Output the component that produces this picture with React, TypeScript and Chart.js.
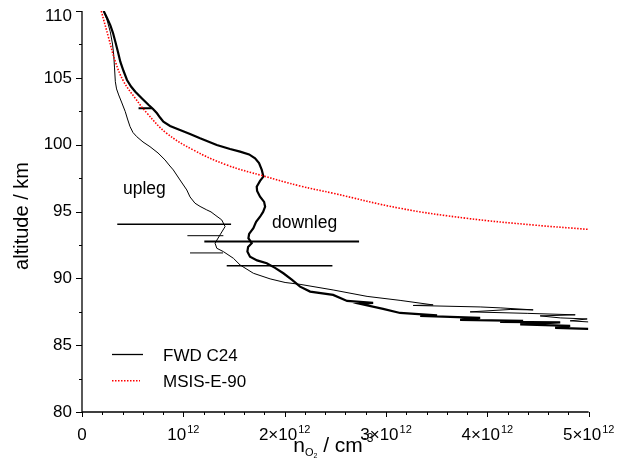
import { useEffect, useRef } from "react";
import Chart from "chart.js/auto";

// ---------- data (density in units of 1e12 cm^-3, altitude in km) ----------
const X_UNIT = 1e12;
const xMin = 0;
const xMax = 5;
const yMin = 80;
const yMax = 110;

const xMajorTicks = [0, 1, 2, 3, 4, 5];
const xMinorTicks = [0.2, 0.4, 0.6, 0.8, 1.2, 1.4, 1.6, 1.8, 2.2, 2.4, 2.6, 2.8, 3.2, 3.4, 3.6, 3.8, 4.2, 4.4, 4.6, 4.8];
const xTickBase = ["0", "10", "2×10", "3×10", "4×10", "5×10"];
const xTickExp = ["", "12", "12", "12", "12", "12"];
const yMajorTicks = [80, 85, 90, 95, 100, 105, 110];
const yMinorTicks = [82.5, 87.5, 92.5, 97.5, 102.5, 107.5];
const yTickLabels = ["80", "85", "90", "95", "100", "105", "110"];

const uplegN = [
  0.214, 0.247, 0.279, 0.301, 0.313, 0.321, 0.329, 0.341, 0.362, 0.390, 0.427, 0.449,
  0.474, 0.503, 0.540, 0.602, 0.671, 0.750, 0.819, 0.859, 0.901, 0.967, 1.034, 1.066,
  1.115, 1.165, 1.231, 1.273, 1.313, 1.379, 1.412, 1.362, 1.313, 1.330, 1.395, 1.494,
  1.560, 1.691, 1.856, 2.004, 2.152, 2.478, 2.813, 3.139, 3.465, 3.268, 3.929, 4.126,
  4.452, 4.225, 3.830, 4.393, 4.867, 4.521, 4.719, 4.985, 4.817, 4.995,
];
const uplegAlt = [
  110.0, 109.33, 108.45, 107.53, 106.71, 105.74, 104.71, 104.17, 103.72, 103.19, 102.47, 101.92,
  101.35, 100.91, 100.60, 100.20, 99.85, 99.38, 98.86, 98.48, 98.11, 97.36, 96.61, 96.09,
  95.62, 95.38, 95.12, 94.97, 94.74, 94.37, 93.87, 93.25, 92.63, 92.25, 92.00, 91.50,
  91.00, 90.38, 89.96, 89.69, 89.55, 89.13, 88.65, 88.35, 88.01, 87.97, 87.86, 87.79,
  87.64, 87.67, 87.49, 87.38, 87.27, 87.19, 87.04, 86.96, 86.82, 86.74,
];

const downlegN = [
  0.214, 0.247, 0.279, 0.306, 0.329, 0.355, 0.378, 0.410, 0.444, 0.484, 0.526, 0.592,
  0.658, 0.701, 0.740, 0.770, 0.803, 0.869, 0.967, 1.066, 1.165, 1.330, 1.461, 1.560,
  1.649, 1.708, 1.747, 1.774, 1.790, 1.757, 1.724, 1.728, 1.757, 1.797, 1.807, 1.787,
  1.757, 1.718, 1.691, 1.649, 1.642, 1.675, 1.639, 1.632, 1.658, 1.728, 1.823, 1.905,
  1.987, 2.073, 2.152, 2.251, 2.478, 2.616, 2.873, 2.744, 2.971, 3.139, 3.504, 3.337,
  3.929, 3.731, 4.353, 4.126, 4.719, 4.324, 4.817, 4.669, 4.995,
];
const downlegAlt = [
  110.0, 109.48, 108.95, 108.35, 107.70, 106.93, 106.21, 105.51, 104.84, 104.35, 103.96, 103.46,
  102.97, 102.67, 102.35, 102.03, 101.72, 101.40, 101.10, 100.80, 100.48, 99.98, 99.68, 99.48,
  99.27, 98.98, 98.63, 98.11, 97.61, 97.29, 96.86, 96.54, 96.11, 95.72, 95.36, 94.97,
  94.61, 94.22, 93.75, 93.32, 93.00, 92.63, 92.35, 92.00, 91.62, 91.34, 91.13, 90.78,
  90.38, 89.88, 89.38, 89.01, 88.76, 88.31, 88.16, 88.09, 87.71, 87.41, 87.23, 87.19,
  87.04, 86.89, 86.82, 86.74, 86.70, 86.55, 86.44, 86.29, 86.22,
];

const msisN = [0.19, 0.264, 0.329, 0.412, 0.526, 0.642, 0.836, 1.099, 1.428, 1.790, 2.152, 2.481, 3.139, 3.798, 4.455, 5.0];
const msisAlt = [110.0, 107.96, 106.21, 104.71, 103.47, 102.35, 100.85, 99.60, 98.48, 97.66, 96.91, 96.36, 95.24, 94.49, 93.99, 93.66];

// horizontal bars (altitude, low and high density)
const barAlt = [102.72, 94.05, 93.19, 92.75, 91.9, 90.95];
const barLo = [0.558, 0.348, 1.040, 1.207, 1.066, 1.428];
const barHi = [0.691, 1.471, 1.395, 2.734, 1.392, 2.471];

const legendLabels = ["FWD C24", "MSIS-E-90"];
const yTitle = "altitude / km";
const annotUp = "upleg";
const annotDown = "downleg";

// ---------- styles ----------
const barWidths = [2, 1.6, 1, 2, 1, 1.5];
const FONT = "'Liberation Sans', Arial, Helvetica, sans-serif";

const toPts = (xs: number[], ys: number[]) => xs.map((v, i) => ({ x: v * X_UNIT, y: ys[i] }));

export default function App() {
  const ref = useRef<HTMLCanvasElement | null>(null);

  useEffect(() => {
    if (!ref.current) return;

    const decor = {
      id: "decor",
      afterDraw(chart: any) {
        const ctx = chart.ctx as CanvasRenderingContext2D;
        const xs = chart.scales.x;
        const ys = chart.scales.y;
        const a = chart.chartArea;
        ctx.save();
        ctx.strokeStyle = "#000";
        ctx.fillStyle = "#000";
        // axes
        ctx.lineWidth = 1.3;
        ctx.beginPath();
        ctx.moveTo(a.left, a.top);
        ctx.lineTo(a.left, a.bottom);
        ctx.lineTo(a.right, a.bottom);
        ctx.stroke();
        // ticks
        ctx.lineWidth = 1;
        ctx.beginPath();
        xMajorTicks.forEach((t) => {
          const px = Math.round(xs.getPixelForValue(t * X_UNIT)) + 0.5;
          ctx.moveTo(px, a.bottom);
          ctx.lineTo(px, a.bottom + 5);
        });
        xMinorTicks.forEach((t) => {
          const px = Math.round(xs.getPixelForValue(t * X_UNIT)) + 0.5;
          ctx.moveTo(px, a.bottom);
          ctx.lineTo(px, a.bottom + 3);
        });
        yMajorTicks.forEach((t) => {
          const py = Math.round(ys.getPixelForValue(t)) + 0.5;
          ctx.moveTo(a.left, py);
          ctx.lineTo(a.left - 6, py);
        });
        yMinorTicks.forEach((t) => {
          const py = Math.round(ys.getPixelForValue(t)) + 0.5;
          ctx.moveTo(a.left, py);
          ctx.lineTo(a.left - 3, py);
        });
        ctx.stroke();

        // y tick labels
        ctx.font = `17px ${FONT}`;
        ctx.textAlign = "right";
        ctx.textBaseline = "middle";
        yMajorTicks.forEach((t, i) => {
          let py = ys.getPixelForValue(t);
          if (py < a.top + 5) py = a.top + 5;
          ctx.fillText(yTickLabels[i], a.left - 10, py);
        });

        // x tick labels with exponent
        ctx.textBaseline = "alphabetic";
        ctx.textAlign = "left";
        xMajorTicks.forEach((t, i) => {
          const px = xs.getPixelForValue(t * X_UNIT);
          ctx.font = `17px ${FONT}`;
          const wb = ctx.measureText(xTickBase[i]).width;
          ctx.font = `11px ${FONT}`;
          const we = xTickExp[i] ? ctx.measureText(xTickExp[i]).width + 1 : 0;
          const x0 = px - (wb + we) / 2;
          const by = a.bottom + 28;
          ctx.font = `17px ${FONT}`;
          ctx.fillText(xTickBase[i], x0, by);
          if (xTickExp[i]) {
            ctx.font = `11px ${FONT}`;
            ctx.fillText(xTickExp[i], x0 + wb + 1, by - 7);
          }
        });

        // x title: n_{O2} / cm^-3
        {
          const parts = [
            { t: "n", f: 21, dy: 0 },
            { t: "O", f: 11, dy: 4 },
            { t: "2", f: 7, dy: 6 },
            { t: " / cm", f: 21, dy: 0 },
            { t: "-3", f: 12, dy: -10 },
          ];
          let w = 0;
          parts.forEach((p) => {
            ctx.font = `${p.f}px ${FONT}`;
            w += ctx.measureText(p.t).width;
          });
          let x = (a.left + a.right) / 2 - w / 2 - 2;
          const by = a.bottom + 40;
          parts.forEach((p) => {
            ctx.font = `${p.f}px ${FONT}`;
            ctx.fillText(p.t, x, by + p.dy);
            x += ctx.measureText(p.t).width;
          });
        }

        // y title
        ctx.save();
        ctx.translate(14.5, 208);
        ctx.rotate(-Math.PI / 2);
        ctx.font = `20px ${FONT}`;
        ctx.textAlign = "center";
        ctx.textBaseline = "middle";
        ctx.fillText(yTitle, 0, 0);
        ctx.restore();

        // annotations
        ctx.font = `17.5px ${FONT}`;
        ctx.textAlign = "left";
        ctx.textBaseline = "alphabetic";
        ctx.fillText(annotUp, 115, 186);
        ctx.fillText(annotDown, 264, 219.5);

        // legend
        ctx.lineWidth = 1.3;
        ctx.strokeStyle = "#000";
        ctx.beginPath();
        ctx.moveTo(104, 346.5);
        ctx.lineTo(135, 346.5);
        ctx.stroke();
        ctx.strokeStyle = "#ff0000";
        ctx.setLineDash([1.5, 1.5]);
        ctx.lineWidth = 1.6;
        ctx.beginPath();
        ctx.moveTo(104, 372.7);
        ctx.lineTo(132, 372.7);
        ctx.stroke();
        ctx.setLineDash([]);
        ctx.fillStyle = "#000";
        ctx.font = `17px ${FONT}`;
        ctx.fillText(legendLabels[0], 155, 352.7);
        ctx.fillText(legendLabels[1], 155, 378.7);

        ctx.restore();
      },
    };

    const barSets = barAlt.map((alt, i) => ({
      label: "bar" + i,
      data: [
        { x: barLo[i] * X_UNIT, y: alt },
        { x: barHi[i] * X_UNIT, y: alt },
      ],
      showLine: true,
      borderColor: "#000",
      borderWidth: barWidths[i],
      pointRadius: 0,
    }));

    const chart = new Chart(ref.current, {
      type: "scatter",
      data: {
        datasets: [
          {
            label: "MSIS-E-90",
            data: toPts(msisN, msisAlt),
            showLine: true,
            borderColor: "#ff0000",
            borderWidth: 1.6,
            borderDash: [1.5, 1.5],
            pointRadius: 0,
            tension: 0.4,
          },
          {
            label: "upleg",
            data: toPts(uplegN, uplegAlt),
            showLine: true,
            borderColor: "#000",
            borderWidth: 1,
            pointRadius: 0,
          },
          {
            label: "downleg",
            data: toPts(downlegN, downlegAlt),
            showLine: true,
            borderColor: "#000",
            borderWidth: 2.2,
            pointRadius: 0,
          },
          ...barSets,
        ],
      },
      options: {
        animation: false,
        responsive: false,
        maintainAspectRatio: false,
        layout: { padding: { left: 0, right: 31.3, top: 3, bottom: 0 } },
        plugins: { legend: { display: false }, tooltip: { enabled: false } },
        scales: {
          x: {
            type: "linear",
            min: xMin * X_UNIT,
            max: xMax * X_UNIT,
            grid: { display: false, drawTicks: false },
            border: { display: false },
            ticks: { display: false },
            afterFit: (s: any) => {
              s.height = 46;
            },
          },
          y: {
            type: "linear",
            min: yMin,
            max: yMax,
            grid: { display: false, drawTicks: false },
            border: { display: false },
            ticks: { display: false },
            afterFit: (s: any) => {
              s.width = 74;
            },
          },
        },
      },
      plugins: [decor],
    } as any);

    return () => chart.destroy();
  }, []);

  return (
    <div style={{ width: 612, height: 450 }}>
      <canvas ref={ref} width={612} height={450} style={{ display: "block" }} />
    </div>
  );
}
